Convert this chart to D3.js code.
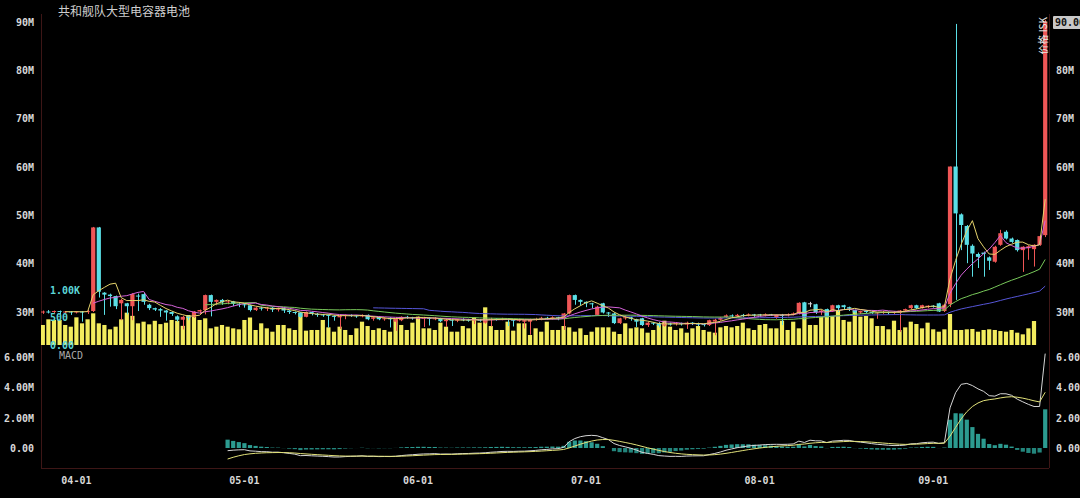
<!DOCTYPE html>
<html><head><meta charset="utf-8">
<script src="https://cdn.jsdelivr.net/npm/d3@7"></script>
<style>html,body{margin:0;padding:0;background:#000;overflow:hidden}</style>
</head><body><svg id="c" width="1080" height="498"></svg>
<script>
const title = "共和舰队大型电容器电池";
const startDate = new Date(2023, 2, 26);
const dayCount = 180;
// prices in millions of ISK
const open = [
30.0,30.1,30.0,30.2,30.0,30.1,30.0,30.1,30.0,30.2,
47.5,34.0,33.6,33.3,31.8,31.8,31.2,33.4,33.7,31.5,
30.8,30.6,30.3,30.0,29.1,28.4,29.1,29.0,30.1,30.4,
33.5,32.1,32.5,32.0,32.2,31.7,31.6,31.4,30.4,30.9,
30.7,30.9,30.5,30.8,30.3,30.0,29.9,29.0,30.0,29.6,
29.5,29.4,29.2,28.9,29.2,29.4,29.3,29.2,29.4,28.6,
29.0,28.6,28.8,28.0,28.3,29.0,28.9,28.8,28.6,28.8,
28.6,28.7,28.1,28.4,28.2,28.5,28.4,28.3,28.4,27.8,
28.4,28.6,28.5,28.6,28.4,28.2,28.0,28.0,28.5,28.6,
28.8,28.7,28.9,28.7,29.7,33.5,32.5,32.1,31.8,29.4,
31.8,29.9,29.7,27.7,28.7,28.9,28.5,28.7,27.3,27.8,
27.7,27.2,27.6,27.5,27.7,27.4,27.8,27.6,27.5,27.3,
28.0,28.4,29.0,29.3,29.2,29.4,29.3,29.5,29.5,29.3,
29.5,28.8,29.4,29.3,29.5,29.7,32.0,31.8,31.6,30.0,
30.6,30.1,31.4,31.4,31.0,30.4,29.9,30.2,30.0,29.7,
29.9,30.0,29.9,29.8,30.3,30.8,31.4,30.8,31.0,31.3,
31.8,30.2,31.6,60.1,50.2,47.8,43.7,42.0,42.3,41.3,
40.4,43.9,46.6,45.2,44.9,42.8,43.2,43.0,43.9,45.9];
const close = [
30.1,30.0,30.2,30.0,30.1,30.0,30.1,30.0,30.2,47.5,
34.2,33.6,33.3,31.2,32.5,31.2,33.7,33.2,32.1,30.8,
30.5,30.3,29.9,29.6,28.4,29.0,28.8,30.1,30.4,33.5,
32.1,32.5,32.0,32.2,31.7,31.6,31.5,30.4,30.9,30.7,
30.9,30.5,30.8,30.3,30.0,29.8,29.0,30.0,29.6,29.5,
29.4,29.2,29.0,29.2,29.4,29.3,29.2,29.3,28.5,28.9,
28.5,28.7,28.5,28.7,29.0,28.9,28.8,28.9,28.8,28.6,
28.7,28.1,28.4,28.2,28.5,28.4,28.3,28.4,28.3,28.4,
28.6,28.5,28.6,28.4,28.2,28.4,28.3,28.5,28.6,28.8,
28.7,28.9,28.7,29.7,33.5,32.5,32.1,31.8,31.6,31.1,
29.9,29.7,27.7,28.7,28.9,28.6,28.0,27.3,27.8,27.7,
27.2,27.6,27.5,27.7,27.5,27.8,27.6,27.5,27.4,28.3,
28.4,28.8,29.3,29.2,29.4,29.3,29.5,29.3,29.4,29.5,
29.4,29.4,29.3,29.5,29.7,31.9,29.0,31.8,29.9,30.3,
29.0,31.4,30.8,31.0,30.7,29.9,30.2,30.1,29.9,29.9,
30.0,29.9,30.0,30.3,30.6,31.4,30.8,31.4,31.3,31.2,
30.1,31.5,60.1,50.4,48.0,43.9,42.1,41.4,42.0,40.6,
43.5,46.3,45.2,44.5,42.8,43.5,43.6,43.9,45.7,90.0];
const high = [
30.3,30.4,30.3,30.3,30.2,30.2,30.2,30.2,30.4,47.6,
47.6,34.1,33.8,33.4,32.7,31.9,33.9,33.8,34.0,31.7,
30.9,30.8,30.4,30.1,29.3,29.2,29.3,30.2,30.5,33.6,
33.6,32.6,32.7,32.4,32.3,31.9,31.8,31.5,31.0,31.1,
31.0,31.0,30.9,30.9,30.4,30.1,30.0,30.1,30.1,29.8,
29.6,29.5,29.3,29.4,29.5,29.5,29.4,29.5,29.5,29.1,
29.1,28.9,28.9,28.9,29.1,29.2,29.0,29.1,29.0,28.9,
28.9,28.8,28.6,28.5,28.6,28.7,28.6,28.6,28.5,28.6,
28.8,28.7,28.8,28.7,28.5,28.6,28.4,28.6,28.8,29.0,
29.0,29.1,29.0,29.8,33.6,33.6,32.6,32.2,31.9,31.3,
31.9,30.0,29.8,28.8,29.3,29.0,28.6,28.8,28.0,27.9,
27.9,27.8,27.8,27.9,27.8,28.0,27.9,27.8,27.6,28.4,
28.6,29.0,29.5,29.5,29.6,29.6,29.7,29.6,29.6,29.7,
29.6,29.5,29.6,29.7,29.9,32.0,32.1,32.1,31.7,30.5,
30.7,31.5,31.5,31.5,31.1,30.5,30.3,30.3,30.1,30.0,
30.2,30.1,30.2,30.4,30.7,31.5,31.5,31.5,31.4,31.4,
31.9,31.6,60.1,89.6,50.4,48.0,44.0,42.3,42.5,41.5,
43.7,47.0,46.9,45.4,45.0,43.6,43.8,44.0,45.9,90.4];
const low = [
29.6,29.7,29.8,29.5,29.8,29.4,29.7,28.0,29.6,30.0,
33.0,29.4,31.1,30.6,28.3,29.5,28.3,30.2,31.5,30.4,
30.2,29.0,28.2,29.2,28.0,26.4,28.3,28.8,29.6,29.5,
29.1,31.4,31.5,31.6,31.2,31.0,30.9,30.1,30.2,30.3,
30.2,30.0,30.1,29.8,29.6,29.5,28.8,28.9,29.3,29.0,
29.0,26.8,28.2,26.5,28.5,29.0,28.8,28.9,28.3,28.2,
28.3,28.2,26.8,26.1,28.1,28.6,28.4,28.5,26.9,27.2,
28.3,27.9,26.9,27.1,27.9,28.1,28.0,27.5,28.0,27.6,
27.0,28.2,28.3,27.1,27.0,28.0,26.6,25.3,28.2,28.3,
28.4,28.4,28.3,26.3,29.5,31.5,31.3,31.0,30.8,29.2,
29.7,29.0,27.5,27.5,28.4,28.2,26.9,27.1,26.9,27.3,
26.8,27.0,27.2,27.2,27.2,26.5,27.3,27.1,27.0,27.1,
25.2,28.2,28.8,28.9,29.0,29.0,29.1,29.0,29.1,29.1,
29.2,28.6,27.3,29.1,29.3,29.5,28.3,31.0,29.6,29.4,
28.8,30.0,30.0,30.6,30.2,29.7,29.6,29.8,29.6,28.6,
29.6,29.5,29.6,25.9,30.1,30.6,30.6,30.7,30.8,30.9,
30.0,30.0,31.0,32.5,42.8,40.1,37.3,39.1,37.3,38.7,
40.2,43.7,45.0,44.3,42.5,38.3,40.8,39.4,43.7,45.5];
const volume = [
364,467,455,455,364,333,503,394,467,576,
394,364,285,333,467,588,530,394,424,376,
440,380,405,455,440,348,545,515,455,485,
303,333,364,333,303,285,455,500,273,394,
303,242,364,364,303,273,588,261,273,273,
455,321,242,333,273,182,303,424,345,273,
303,273,242,467,364,273,406,515,303,303,
273,406,333,242,242,345,303,503,406,685,
345,273,273,424,261,394,394,182,303,242,
424,273,273,345,321,242,303,182,242,321,
321,321,242,200,394,303,321,303,224,273,
364,442,333,273,303,224,303,345,273,242,
224,321,345,321,345,406,303,273,364,382,
303,303,442,273,424,303,606,364,364,515,
636,527,624,455,424,624,515,527,485,345,
345,285,442,273,321,424,382,303,406,285,
242,285,564,273,273,285,291,242,273,285,
273,254,242,273,224,194,303,436,null,null];
const priceTicks = [30, 40, 50, 60, 70, 80, 90];
const volumeTicks = [0, 500, 1000];
const macdTicks = [0, 2, 4, 6];
const maPeriods = [60, 30, 10, 5];
const maColors = {5: "#e6d46c", 10: "#d462d8", 30: "#78c85a", 60: "#5656d8"};
const lastPriceLabel = "90.00";
const axisLabel = "价格 ISK";

const n = dayCount;
const dates = d3.range(n).map(i => d3.timeDay.offset(startDate, i));
const fmt = d3.timeFormat("%m-%d");
const svg = d3.select("#c");
svg.append("rect").attr("width", 1080).attr("height", 498).attr("fill", "#000");

const L = 41, R = 1049;
const x = d3.scaleBand().domain(d3.range(n)).range([40, 1048]).paddingInner(0.25).paddingOuter(0.125);
const bw = x.bandwidth();
const cx = i => x(i) + bw / 2;
const yP = d3.scaleLinear().domain([30, 90]).range([312, 22]);
const yV = d3.scaleLinear().domain([0, 1000]).range([345, 290]);
const yM = d3.scaleLinear().domain([0, 6]).range([448, 357.5]);

const defs = svg.append("defs");
defs.append("clipPath").attr("id", "cp").append("rect").attr("x", L).attr("y", 14).attr("width", R - L).attr("height", 332);
defs.append("clipPath").attr("id", "cm").append("rect").attr("x", L).attr("y", 349).attr("width", R - L).attr("height", 119);

// frame
const frameColor = "#3d1616";
svg.append("line").attr("x1", L + 0.5).attr("x2", L + 0.5).attr("y1", 14).attr("y2", 468).attr("stroke", frameColor);
svg.append("line").attr("x1", R + 0.5).attr("x2", R + 0.5).attr("y1", 14).attr("y2", 468).attr("stroke", frameColor);

// volume
const gp = svg.append("g").attr("clip-path", "url(#cp)");
gp.selectAll("rect.vol").data(d3.range(n).filter(i => volume[i] != null)).join("rect")
  .attr("x", i => x(i)).attr("width", bw)
  .attr("y", i => yV(volume[i])).attr("height", i => yV(0) - yV(volume[i]))
  .attr("fill", "#f3ec5e");

// candles
const upC = "#ef5656", downC = "#5adfe6", flatC = "#d8d8d8";
const col = i => close[i] > open[i] ? upC : (close[i] < open[i] ? downC : flatC);
const cg = gp.append("g");
cg.selectAll("line").data(d3.range(n)).join("line")
  .attr("x1", i => Math.round(cx(i)) + 0.5).attr("x2", i => Math.round(cx(i)) + 0.5)
  .attr("y1", i => yP(high[i])).attr("y2", i => yP(low[i]))
  .attr("stroke", col).attr("stroke-width", 1);
cg.selectAll("rect").data(d3.range(n)).join("rect")
  .attr("x", i => x(i)).attr("width", bw)
  .attr("y", i => yP(Math.max(open[i], close[i])))
  .attr("height", i => Math.max(1, Math.abs(yP(open[i]) - yP(close[i]))))
  .attr("fill", col);

// moving averages
function sma(arr, p) {
  return arr.map((v, i) => i < p - 1 ? null : d3.mean(arr.slice(i - p + 1, i + 1)));
}
maPeriods.forEach(p => {
  const m = sma(close, p);
  gp.append("path").datum(d3.range(n))
    .attr("d", d3.line().defined(i => m[i] != null).x(i => cx(i)).y(i => yP(m[i])))
    .attr("fill", "none").attr("stroke", maColors[p]).attr("stroke-width", 1);
});

// MACD
function ema(vals, p, start) {
  const out = new Array(vals.length).fill(null);
  const k = 2 / (p + 1);
  let prev = d3.mean(vals.slice(start, start + p));
  out[start + p - 1] = prev;
  for (let j = start + p; j < vals.length; j++) { prev = vals[j] * k + prev * (1 - k); out[j] = prev; }
  return out;
}
const e12 = ema(close, 12, 0), e26 = ema(close, 26, 0);
const dif = close.map((v, i) => e26[i] == null ? null : e12[i] - e26[i]);
const dea = ema(dif, 9, 25);
const hist = dif.map((v, i) => dea[i] == null ? null : v - dea[i]);
const gm = svg.append("g").attr("clip-path", "url(#cm)");
const mIdx = d3.range(n).filter(i => hist[i] != null);
gm.selectAll("rect").data(mIdx).join("rect")
  .attr("x", i => x(i)).attr("width", bw)
  .attr("y", i => Math.min(yM(0), yM(hist[i]))).attr("height", i => Math.abs(yM(hist[i]) - yM(0)))
  .attr("fill", i => hist[i] >= 0 ? "#2c9b90" : "#23857c");
gm.append("path").datum(mIdx).attr("d", d3.line().x(cx).y(i => yM(dif[i])))
  .attr("fill", "none").attr("stroke", "#d6d6d6").attr("stroke-width", 1);
gm.append("path").datum(mIdx).attr("d", d3.line().x(cx).y(i => yM(dea[i])))
  .attr("fill", "none").attr("stroke", "#e2e27a").attr("stroke-width", 1);

// axes
const tickFont = g => g.selectAll("text").attr("font-family", "DejaVu Sans Mono").attr("font-weight", "bold").attr("font-size", 10);
function styleAxis(g, color) {
  g.select(".domain").remove();
  g.selectAll("line").remove();
  tickFont(g);
  g.selectAll("text").attr("fill", color || "#d8d8d8");
}
svg.append("g").attr("transform", `translate(${L},0)`)
  .call(d3.axisLeft(yP).tickValues(priceTicks).tickFormat(d => d + "M").tickSize(0).tickPadding(7)).call(styleAxis);
svg.append("g").attr("transform", `translate(${R},0)`)
  .call(d3.axisRight(yP).tickValues(priceTicks.filter(d => d !== 90)).tickFormat(d => d + "M").tickSize(0).tickPadding(7)).call(styleAxis);
const mfmt = d => d === 0 ? "0.00" : d.toFixed(2) + "M";
svg.append("g").attr("transform", `translate(${L},0)`)
  .call(d3.axisLeft(yM).tickValues(macdTicks).tickFormat(mfmt).tickSize(0).tickPadding(7)).call(styleAxis);
svg.append("g").attr("transform", `translate(${R},0)`)
  .call(d3.axisRight(yM).tickValues(macdTicks).tickFormat(mfmt).tickSize(0).tickPadding(7)).call(styleAxis);
svg.append("g").attr("transform", `translate(50,0)`)
  .call(d3.axisRight(yV).tickValues(volumeTicks).tickFormat(d => d === 0 ? "0.00" : d >= 1000 ? (d / 1000).toFixed(2) + "K" : d).tickSize(0).tickPadding(0))
  .call(g => styleAxis(g, "#5cd6d6"));

const monthIdx = d3.range(n).filter(i => dates[i].getDate() === 1);
const xa = svg.append("g").attr("transform", "translate(0,468)")
  .call(d3.axisBottom(x).tickValues(monthIdx).tickFormat(i => fmt(dates[i])).tickSize(0).tickPadding(9));
xa.select(".domain").attr("stroke", frameColor).attr("d", `M${L},0.5H${R}`);
tickFont(xa); xa.selectAll("text").attr("fill", "#d8d8d8");

// labels
svg.append("text").attr("x", 58).attr("y", 16).text(title)
  .attr("font-family", "Noto Sans CJK SC").attr("font-size", 12).attr("fill", "#cfcfcf");
svg.append("text").attr("x", 59).attr("y", 359).text("MACD")
  .attr("font-family", "DejaVu Sans Mono").attr("font-size", 10).attr("fill", "#aaaaaa");
svg.append("rect").attr("x", 1053).attr("y", 16).attr("width", 30).attr("height", 13).attr("fill", "#c8c8c8").attr("rx", 1);
svg.append("text").attr("x", 1055).attr("y", 26).text(lastPriceLabel)
  .attr("font-family", "DejaVu Sans Mono").attr("font-weight", "bold").attr("font-size", 10).attr("fill", "#111");
svg.append("text").attr("transform", "translate(1047,17) rotate(-90)").attr("text-anchor", "end").text(axisLabel)
  .attr("font-family", "Noto Sans CJK SC").attr("font-size", 10).attr("fill", "#e8e8e8");
</script></body></html>
